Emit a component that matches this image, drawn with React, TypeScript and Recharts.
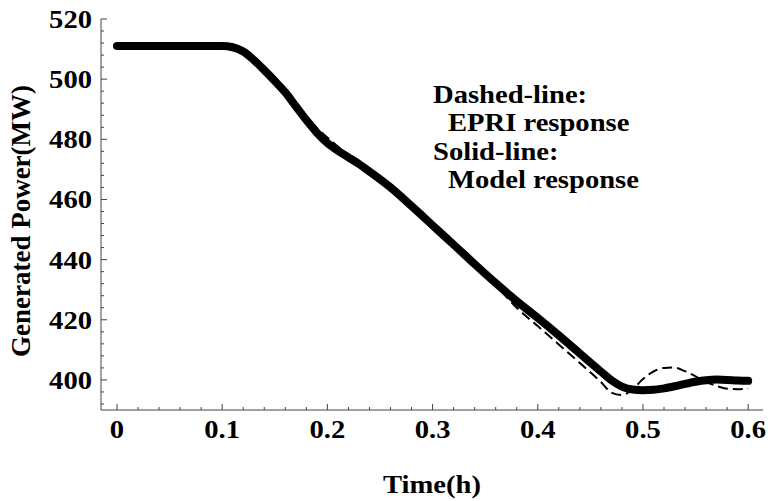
import { LineChart, Line, XAxis, YAxis } from 'recharts';

const times = [0, 0.02, 0.04, 0.06, 0.08, 0.1, 0.11, 0.12, 0.13, 0.14, 0.15, 0.16, 0.17, 0.18, 0.19, 0.2, 0.21, 0.22, 0.23, 0.24, 0.26, 0.28, 0.3, 0.32, 0.34, 0.36, 0.38, 0.4, 0.42, 0.44, 0.46, 0.47, 0.48, 0.49, 0.5, 0.51, 0.52, 0.53, 0.54, 0.55, 0.56, 0.57, 0.58, 0.59, 0.6];

const modelPower = [511, 511, 511, 511, 511, 511, 510.6, 509.2, 506.4, 503, 499.4, 495.6, 491, 486.4, 482.2, 478.8, 476.2, 474, 471.8, 469.3, 464, 457.8, 451.4, 445, 438.5, 432.2, 426.2, 420.6, 414.8, 408.8, 402.8, 399.9, 397.8, 396.8, 396.6, 396.7, 397.2, 397.9, 398.7, 399.4, 399.9, 400.1, 400, 399.8, 399.7];

const epriPower = [511, 511, 511, 511, 511, 511, 510.6, 509.2, 506.6, 503.4, 499.8, 496, 491.8, 487.6, 483.8, 480.6, 477.6, 474.8, 472.2, 469.5, 464, 457.8, 451.4, 445, 438.3, 431.5, 424, 417.9, 411.8, 405.6, 399.3, 395.8, 395, 396.8, 400.3, 402.8, 404, 404.1, 402.9, 401.2, 399.4, 398, 397.1, 396.9, 397.1];

// every 0.02 h, labels only on the tenths
const xTicks = [0, 0.02, 0.04, 0.06, 0.08, 0.1, 0.12, 0.14, 0.16, 0.18, 0.2, 0.22, 0.24, 0.26, 0.28, 0.3, 0.32, 0.34, 0.36, 0.38, 0.4, 0.42, 0.44, 0.46, 0.48, 0.5, 0.52, 0.54, 0.56, 0.58, 0.6];
// every 4 MW, labels only on multiples of 20
const yTicks = [392, 396, 400, 404, 408, 412, 416, 420, 424, 428, 432, 436, 440, 444, 448, 452, 456, 460, 464, 468, 472, 476, 480, 484, 488, 492, 496, 500, 504, 508, 512, 516, 520];

const legendLines = ['Dashed-line:', '  EPRI response', 'Solid-line:', '  Model response'];

const data = times.map((t, i) => ({ t, model: modelPower[i], epri: epriPower[i] }));

const FONT = "'Liberation Serif', 'Times New Roman', serif";
const FRAME = '#444';

const isMajorX = (v: number) => Math.abs(v * 10 - Math.round(v * 10)) < 1e-6;
const isMajorY = (v: number) => v % 20 === 0;

function BottomTick({ x, y, payload }: any) {
  const major = isMajorX(payload.value);
  const label = payload.value === 0 ? '0' : payload.value.toFixed(1);
  return (
    <g>
      <line x1={x} y1={y} x2={x} y2={y - (major ? 6 : 3)} stroke={FRAME} />
      {major && (
        <text transform={`translate(${x},${y + 28}) scale(1.1,1)`} textAnchor="middle"
          fontFamily={FONT} fontWeight="bold" fontSize={26} fill="#000">{label}</text>
      )}
    </g>
  );
}

function TopTick({ x, y, payload }: any) {
  const major = isMajorX(payload.value);
  return <line x1={x} y1={y} x2={x} y2={y + (major ? 6 : 3)} stroke={FRAME} />;
}

function LeftTick({ x, y, payload }: any) {
  const major = isMajorY(payload.value);
  return (
    <g>
      <line x1={x} y1={y} x2={x + (major ? 6 : 3)} y2={y} stroke={FRAME} />
      {major && (
        <text transform={`translate(${x - 9},${y + 9}) scale(1.1,1)`} textAnchor="end"
          fontFamily={FONT} fontWeight="bold" fontSize={26} fill="#000">{payload.value}</text>
      )}
    </g>
  );
}

function RightTick({ x, y, payload }: any) {
  const major = isMajorY(payload.value);
  return <line x1={x} y1={y} x2={x - (major ? 6 : 3)} y2={y} stroke={FRAME} />;
}

export default function App() {
  return (
    <div style={{ position: 'absolute', left: 0, top: 0, width: 768, height: 501, background: '#fff' }}>
      <LineChart width={768} height={501} data={data} margin={{ top: 19, right: 5, bottom: 0, left: 0 }}>
        <XAxis xAxisId="b" dataKey="t" type="number" domain={[-0.0152, 0.6141]} allowDataOverflow
          ticks={xTicks} interval={0} height={91} tickSize={0} tickMargin={0} tickLine={false}
          axisLine={{ stroke: FRAME }} tick={<BottomTick />} />
        <XAxis xAxisId="top" orientation="top" dataKey="t" type="number" domain={[-0.0152, 0.6141]} allowDataOverflow
          ticks={xTicks} interval={0} height={0} tickSize={0} tickMargin={0} tickLine={false}
          axisLine={{ stroke: FRAME }} tick={<TopTick />} />
        <YAxis yAxisId="l" type="number" domain={[390, 520]} allowDataOverflow
          ticks={yTicks} interval={0} width={101} tickSize={0} tickMargin={0} tickLine={false}
          axisLine={{ stroke: FRAME }} tick={<LeftTick />} />
        <YAxis yAxisId="r" orientation="right" type="number" domain={[390, 520]} allowDataOverflow
          ticks={yTicks} interval={0} width={0} tickSize={0} tickMargin={0} tickLine={false}
          axisLine={{ stroke: FRAME }} tick={<RightTick />} />
        <Line xAxisId="b" yAxisId="l" type="monotone" dataKey="epri" stroke="#000" strokeWidth={2}
          strokeDasharray="10 5" dot={false} isAnimationActive={false} />
        <Line xAxisId="b" yAxisId="l" type="monotone" dataKey="model" stroke="#000" strokeWidth={8}
          strokeLinecap="round" strokeLinejoin="round" dot={false} isAnimationActive={false} />
      </LineChart>
      <svg width={768} height={501} style={{ position: 'absolute', left: 0, top: 0, pointerEvents: 'none' }}>
        <g fontFamily={FONT} fontWeight="bold" fill="#000">
          <text transform="translate(30,221) rotate(-90)" textAnchor="middle" fontSize={27}>Generated Power(MW)</text>
          <text transform="translate(432,493) scale(1.1,1)" textAnchor="middle" fontSize={26}>Time(h)</text>
          {legendLines.map((s, i) => (
            <text key={i} transform={`translate(${s.startsWith(' ') ? 448 : 433},${[103, 131, 160, 188][i]}) scale(1.1,1)`}
              fontSize={26}>{s.trim()}</text>
          ))}
        </g>
      </svg>
    </div>
  );
}
